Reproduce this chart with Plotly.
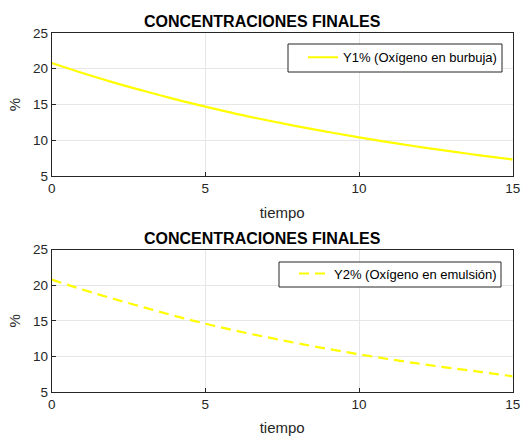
import plotly.graph_objects as go

tiempo = [0, 1, 2, 3, 4, 5, 6, 7, 8, 9, 10, 11, 12, 13, 14, 15]
y1 = [20.8, 19.4, 18.1, 16.9, 15.75, 14.7, 13.7, 12.8, 11.95, 11.15, 10.4, 9.7, 9.05, 8.45, 7.85, 7.3]
y2 = [20.8, 19.4, 18.1, 16.9, 15.7, 14.6, 13.6, 12.7, 11.85, 11.05, 10.3, 9.6, 8.95, 8.35, 7.8, 7.2]
title_text = "CONCENTRACIONES FINALES"
name1 = "Y1% (Oxígeno en burbuja)"
name2 = "Y2% (Oxígeno en emulsión)"
xticks = [0, 5, 10, 15]
yticks = [5, 10, 15, 20, 25]

FONT = "Liberation Sans, Arial, sans-serif"
AX = "#262626"
W, H = 524, 436

fig = go.Figure()
fig.add_trace(go.Scatter(x=tiempo, y=y1, mode="lines", name=name1, showlegend=True,
                         line=dict(color="#FFFF00", width=2.2, shape="spline"),
                         xaxis="x", yaxis="y", legend="legend"))
fig.add_trace(go.Scatter(x=tiempo, y=y2, mode="lines", name=name2, showlegend=True,
                         line=dict(color="#FFFF00", width=2.2, dash="10px,6px", shape="spline"),
                         xaxis="x2", yaxis="y2", legend="legend2"))

xd = [0.0987, 0.9784]
common_x = dict(range=[0, 15], tickvals=xticks, showline=True, mirror=True, linecolor=AX,
                linewidth=1, ticks="inside", ticklen=4, tickcolor=AX, showgrid=True,
                gridcolor="#E6E6E6", zeroline=False, automargin=False,
                tickfont=dict(size=13.5, color=AX, family=FONT),
                title=dict(text="tiempo", font=dict(size=15, color=AX, family=FONT), standoff=12))
common_y = dict(range=[5, 25], tickvals=yticks, showline=True, mirror=True, linecolor=AX,
                linewidth=1, ticks="inside", ticklen=4, tickcolor=AX, showgrid=True,
                gridcolor="#E6E6E6", zeroline=False, automargin=False,
                tickfont=dict(size=13.5, color=AX, family=FONT),
                title=dict(text="%", font=dict(size=15, color=AX, family=FONT), standoff=8))

leg = dict(xanchor="right", yanchor="top", bgcolor="rgba(0,0,0,0)", borderwidth=0,
           font=dict(size=13, color="#000000", family=FONT), itemwidth=30,
           tracegroupgap=0)


def box(x0, y0, x1, y1_):
    return dict(type="rect", xref="paper", yref="paper", layer="above",
                x0=x0 / W, x1=x1 / W, y0=1 - y1_ / H, y1=1 - y0 / H,
                fillcolor="white", line=dict(color=AX, width=1))


fig.update_layout(
    width=W, height=H, margin=dict(l=0, r=0, t=0, b=0, autoexpand=False),
    paper_bgcolor="white", plot_bgcolor="white", showlegend=True,
    font=dict(family=FONT, color=AX),
    xaxis=dict(domain=xd, anchor="y", **common_x),
    yaxis=dict(domain=[0.5963, 0.9243], anchor="x", **common_y),
    xaxis2=dict(domain=xd, anchor="y2", **common_x),
    yaxis2=dict(domain=[0.1009, 0.4273], anchor="x2", **common_y),
    legend=dict(x=0.958, y=0.903, **leg),
    legend2=dict(x=0.958, y=0.407, **leg),
    shapes=[box(288, 44, 502, 72), box(279, 262, 501, 287)],
    annotations=[
        dict(text="<b>" + title_text + "</b>", x=0.5, y=0.9243, xref="paper", yref="paper",
             xanchor="center", yanchor="bottom", yshift=1, showarrow=False,
             font=dict(size=16, color="#000000", family=FONT)),
        dict(text="<b>" + title_text + "</b>", x=0.5, y=0.4273, xref="paper", yref="paper",
             xanchor="center", yanchor="bottom", yshift=1, showarrow=False,
             font=dict(size=16, color="#000000", family=FONT)),
    ],
)

fig.write_html("out.html")
